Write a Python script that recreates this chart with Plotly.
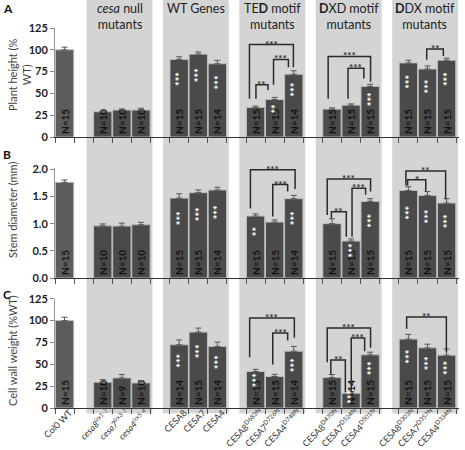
import plotly.graph_objects as go

# ---------------- data ----------------
group_titles = ["", "<i>cesa</i> null<br>mutants", "WT Genes", "TE<b>D</b> motif<br>mutants",
                "<b>D</b>XD motif<br>mutants", "<b>D</b>DX motif<br>mutants"]
group_labels = [
    ["Col0 WT"],
    ["<i>cesa8<sup>irx1-7</sup></i>", "<i>cesa7<sup>irx3-7</sup></i>", "<i>cesa4<sup>irx5-4</sup></i>"],
    ["CESA8", "CESA7", "CESA4"],
    ["CESA8<sup>D683N</sup>", "CESA7<sup>D726N</sup>", "CESA4<sup>D748N</sup>"],
    ["CESA8<sup>D470N</sup>", "CESA7<sup>D524N</sup>", "CESA4<sup>D501N</sup>"],
    ["CESA8<sup>D303N</sup>", "CESA7<sup>D357N</sup>", "CESA4<sup>D334N</sup>"],
]

height = [100, 29, 31, 31, 89, 95, 84, 34, 43, 72, 32, 36.5, 58, 85, 78, 88]
height_err = [3, 0.8, 1.3, 2, 3, 2.5, 4, 1.5, 2.5, 4, 1.5, 1.5, 2.5, 3, 3.5, 2.5]
height_n = ["N=15", "N=10", "N=10", "N=10", "N=15", "N=15", "N=14", "N=15", "N=15", "N=14",
            "N=15", "N=15", "N=15", "N=15", "N=15", "N=15"]
height_stars = ["", "", "", "", "***", "***", "***", "", "**", "***", "", "", "***", "***", "***", "***"]

diameter = [1.76, 0.96, 0.955, 0.98, 1.47, 1.57, 1.62, 1.14, 1.03, 1.46, 1.0, 0.68, 1.41, 1.61, 1.52, 1.38]
diameter_err = [0.045, 0.035, 0.055, 0.045, 0.08, 0.05, 0.05, 0.04, 0.04, 0.06, 0.09, 0.04, 0.05, 0.07, 0.07, 0.08]
diameter_n = ["N=15", "N=10", "N=10", "N=10", "N=15", "N=15", "N=14", "N=15", "N=15", "N=14",
              "N=15", "N=15", "N=15", "N=15", "N=15", "N=15"]
diameter_stars = ["", "", "", "", "***", "***", "***", "**", "", "***", "", "***", "***", "***", "***", "***"]

wall = [100, 29.5, 34.4, 28.7, 72.3, 86.8, 70.4, 41.7, 36, 65, 34.8, 16.9, 60.8, 78.8, 68.8, 60.4]
wall_err = [3.8, 3, 4, 2.7, 5.5, 4.6, 5, 2.5, 2.5, 5.4, 3.5, 2, 3, 5.4, 4.2, 7]
wall_n = ["N=15", "N=10", "N=9", "N=10", "N=14", "N=15", "N=14", "N=15", "N=15", "N=14",
          "N=15", "N=14", "N=15", "N=15", "N=15", "N=15"]
wall_stars = ["", "", "", "", "***", "***", "***", "***", "", "***", "", "***", "***", "***", "***", "***"]

# significance brackets: (x left, x right, y left foot, y right foot, y top, label)
height_brackets = [(9.68, 11.98, 44, 80, 106, "***"), (10.02, 10.65, 44, 54, 60, "**"),
                   (10.94, 11.72, 60, 80, 89, "***"), (13.8, 16.02, 44, 63.5, 92.4, "***"),
                   (14.84, 15.67, 44, 67, 79, "***"), (18.96, 19.83, 88.5, 93, 101, "**")]
diameter_brackets = [(9.73, 12.07, 1.28, 1.64, 1.99, "***"), (10.9, 11.68, 1.13, 1.59, 1.72, "***"),
                     (13.75, 16.02, 1.16, 1.59, 1.82, "***"), (13.97, 14.75, 1.10, 0.76, 1.22, "**"),
                     (15.05, 15.76, 0.76, 1.53, 1.65, "***"), (17.87, 19.95, 1.70, 1.45, 1.97, "**"),
                     (17.96, 18.91, 1.70, 1.59, 1.81, "*")]
wall_brackets = [(9.69, 12.03, 58.1, 80.3, 102.9, "***"), (10.9, 11.68, 49.8, 77.3, 85.7, "***"),
                 (13.75, 16.02, 52.4, 68.8, 91.4, "***"), (13.94, 14.7, 39, 18, 55, "**"),
                 (15.01, 15.71, 18, 65, 80, "***"), (17.91, 19.99, 90.6, 63.9, 104, "**")]

# ---------------- layout helpers ----------------
labels = [l for g in group_labels for l in g]
slots, group_start = [], []
s = 0
for g in group_labels:
    group_start.append(s)
    for _ in g:
        slots.append(s)
        s += 1
    s += 1
last_slot = s - 2
boundaries = [i - 0.5 for i in range(last_slot + 2)]

FONT = "Lato"
TICKFONT = "Liberation Sans Narrow, Lato"
W, H = 465, 450
ML, MR, MT, MB = 55, 6, 28, 42
PW, PH = W - ML - MR, H - MT - MB

def px_to_paper_x(px):
    return (px - ML) / PW

def px_to_paper_y(py):
    return (H - MB - py) / PH

panels = [
    dict(vals=height, errs=height_err, ns=height_n, stars=height_stars, br=height_brackets,
         xa="x", ya="y", rng=[0, 125], dtick=25, fmt="", dom=[0.713, 1.0],
         title="Plant height (%<br>WT)", tx=19, ty=75, letter="A", ly=9),
    dict(vals=diameter, errs=diameter_err, ns=diameter_n, stars=diameter_stars, br=diameter_brackets,
         xa="x2", ya="y2", rng=[0, 2.02], dtick=0.5, fmt=".1f", dom=[0.342, 0.631],
         title="Stem diameter (mm)", tx=12, ty=210, letter="B", ly=154),
    dict(vals=wall, errs=wall_err, ns=wall_n, stars=wall_stars, br=wall_brackets,
         xa="x3", ya="y3", rng=[0, 125], dtick=25, fmt="", dom=[0.0, 0.2876],
         title="Cell wall weight (%WT)", tx=12, ty=351, letter="C", ly=294),
]

fig = go.Figure()
annotations = []
bar_colors = ["#5c5c5c"] + ["#4a4a4a"] * (len(slots) - 1)

for p in panels:
    fig.add_trace(go.Bar(
        x=slots, y=p["vals"], xaxis=p["xa"], yaxis=p["ya"], width=0.96,
        marker=dict(color=bar_colors, line=dict(color="#bdbdbd", width=1)),
        error_y=dict(type="data", array=p["errs"], symmetric=False, arrayminus=[0] * len(slots),
                     color="#555555", thickness=1, width=3),
        text=p["ns"], textposition="inside", insidetextanchor="start", textangle=-90,
        textfont=dict(family=FONT, size=10, color="#111111", weight="bold"),
        cliponaxis=False, showlegend=False, hoverinfo="skip"))
    for xi, v, st in zip(slots, p["vals"], p["stars"]):
        if st:
            annotations.append(dict(x=xi, y=v * 0.75, xref=p["xa"], yref=p["ya"], text=st,
                                    textangle=-90, showarrow=False, xshift=1,
                                    xanchor="center", yanchor="middle",
                                    font=dict(family=FONT, size=11, color="white", weight="bold")))
    for (xl, xr, yl, yr, yt, lab) in p["br"]:
        fig.add_trace(go.Scatter(x=[xl, xl, xr, xr], y=[yl, yt, yt, yr], mode="lines",
                                 xaxis=p["xa"], yaxis=p["ya"],
                                 line=dict(color="#2a2a2a", width=1.5),
                                 showlegend=False, hoverinfo="skip"))
        annotations.append(dict(x=(xl + xr) / 2, y=yt, xref=p["xa"], yref=p["ya"], text=lab,
                                showarrow=False, xanchor="center", yanchor="middle", yshift=1,
                                font=dict(family=FONT, size=10, color="#333333", weight="bold")))
    annotations.append(dict(x=px_to_paper_x(p["tx"]), y=px_to_paper_y(p["ty"]), xref="paper", yref="paper",
                            text=p["title"], textangle=-90, showarrow=False,
                            xanchor="center", yanchor="middle",
                            font=dict(family=FONT, size=11, color="#444444")))
    annotations.append(dict(x=px_to_paper_x(1), y=px_to_paper_y(p["ly"]), xref="paper", yref="paper",
                            text=p["letter"], showarrow=False, xanchor="left", yanchor="middle",
                            font=dict(family=FONT, size=12, color="#111111", weight="bold")))

shapes = []
for gi in range(1, len(group_labels)):
    st = group_start[gi]
    shapes.append(dict(type="rect", xref="x", yref="paper", x0=st - 0.85, x1=st + 2.6,
                       y0=-0.014, y1=1.1, fillcolor="#d4d4d4", line=dict(width=0), layer="below"))
    annotations.append(dict(x=st + 0.88, y=px_to_paper_y(-1), xref="x", yref="paper",
                            text=group_titles[gi], showarrow=False, xanchor="center", yanchor="top",
                            font=dict(family=FONT, size=12.5, color="#222222")))

layout = dict(
    width=W, height=H, margin=dict(l=ML, r=MR, t=MT, b=MB),
    paper_bgcolor="white", plot_bgcolor="rgba(0,0,0,0)",
    barmode="overlay", shapes=shapes, annotations=annotations,
    uniformtext=dict(minsize=10, mode="show"),
    font=dict(family=FONT, color="#333333"),
)
for i, p in enumerate(panels):
    xkey = "xaxis" if i == 0 else f"xaxis{i + 1}"
    ykey = "yaxis" if i == 0 else f"yaxis{i + 1}"
    bottom = (i == len(panels) - 1)
    layout[xkey] = dict(
        domain=[0, 1], anchor=p["ya"], range=[-0.5, last_slot + 0.65],
        tickmode="array", tickvals=slots, ticktext=labels if bottom else [""] * len(slots),
        showticklabels=bottom, tickangle=-45, ticks="", ticklen=0,
        ticklabelshift=5, ticklabelstandoff=-5,
        tickfont=dict(family=TICKFONT, size=9, color="#333333"),
        showline=True, linecolor="#333333", linewidth=1.2, showgrid=False, zeroline=False,
        minor=dict(tickmode="array", tickvals=boundaries, ticks="outside", ticklen=5,
                   tickcolor="#555555", tickwidth=1, showgrid=False),
        automargin=False, fixedrange=True)
    layout[ykey] = dict(
        domain=p["dom"], anchor=p["xa"], range=p["rng"], tick0=0, dtick=p["dtick"],
        tickformat=p["fmt"], ticks="outside", ticklen=4, tickcolor="#888888",
        showline=True, linecolor="#999999", linewidth=1, showgrid=False, zeroline=False,
        tickfont=dict(family=FONT, size=11, color="#222222", weight="bold"),
        automargin=False, fixedrange=True)

fig.update_layout(**layout)
fig.write_html("out.html", config={"displayModeBar": False},
               post_script="document.body.style.margin='0';document.body.style.overflow='hidden';")
